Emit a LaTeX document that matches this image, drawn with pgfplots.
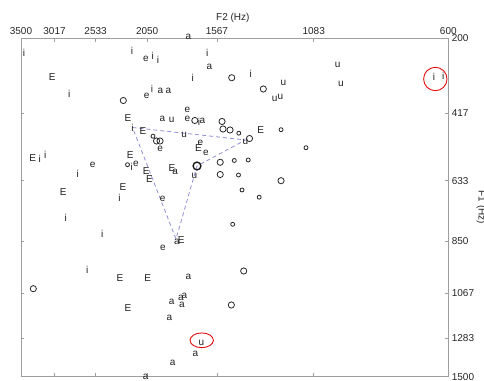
\documentclass[border=0pt]{standalone}
\usepackage{fontspec}
\setmainfont{Liberation Sans}
\usepackage{pgfplots}
\usepackage{pgfplotstable}
\pgfplotsset{compat=1.18}
% Positions are in Bark (Zwicker) units, the scale of both axes.
\pgfplotstableread{
x y l
16.414 2.357 i
13.658 2.303 i
13.130 2.447 i
12.995 2.556 i
11.738 2.357 i
12.110 3.056 i
15.258 3.485 i
13.148 3.340 i
11.949 4.257 i
13.646 4.405 i
16.013 5.259 i
15.870 5.150 i
13.666 5.464 i
15.044 5.677 i
13.977 6.310 i
10.630 2.947 i
5.954 3.012 i
5.717 2.985 i
15.350 6.878 i
14.416 7.307 i
14.799 8.289 i
13.301 2.537 e
13.283 3.531 e
12.248 3.930 e
12.248 4.154 e
12.939 4.986 e
11.911 4.809 e
11.771 5.082 e
14.661 5.415 e
13.556 5.396 e
12.875 6.338 e
12.868 7.697 e
15.692 3.029 E
13.760 4.148 E
13.378 4.487 E
11.962 4.967 E
16.192 5.232 E
13.704 5.164 E
13.296 5.579 E
13.212 5.805 E
12.638 5.513 E
15.411 6.152 E
13.888 6.032 E
10.373 4.467 E
12.401 7.484 E
13.964 8.508 E
13.258 8.508 E
13.760 9.335 E
12.222 1.920 a
11.681 2.739 a
12.936 3.411 a
12.732 3.403 a
12.885 4.175 a
11.860 4.230 a
12.556 5.614 a
12.510 7.511 a
12.222 8.472 a
12.646 9.171 a
12.408 9.054 a
12.324 8.999 a
12.383 9.245 a
12.707 9.608 a
12.044 10.583 a
12.620 10.837 a
13.309 11.202 a
12.646 4.194 u
12.327 4.598 u
10.763 4.781 u
12.069 5.723 u
8.411 2.693 u
8.327 3.220 u
9.799 3.176 u
10.018 3.621 u
9.875 3.558 u
11.891 10.274 u
}\letters
\pgfplotstableread{
x y
11.115 3.040
13.880 3.662
12.056 4.208
11.362 4.235
11.337 4.440
11.158 4.467
13.033 4.768
12.944 4.768
10.661 4.700
10.309 3.348
11.408 5.349
11.408 5.682
9.857 5.852
10.809 8.317
16.176 8.800
11.125 9.245
}\bigO
\pgfplotstableread{
x y
10.934 4.555
13.123 4.637
13.773 5.415
11.049 5.300
10.694 5.286
10.942 5.696
10.852 6.105
10.414 6.302
9.857 4.459
9.220 4.951
11.090 7.042
}\smallO
\definecolor{tri}{rgb}{0.56,0.56,0.83}
\definecolor{axgray}{rgb}{0.62,0.62,0.62}
\begin{document}
\begin{tikzpicture}
\begin{axis}[
  scale only axis, width=427.3pt, height=338.4pt,
  at={(0pt,0pt)}, anchor=south west,
  xmin=5.590, xmax=16.49, x dir=reverse,
  ymin=1.964, ymax=11.203, y dir=reverse,
  clip=false,
  xtick={16.49,15.634,14.587,13.272,11.493,9.023,5.590},
  xticklabels={3500,3017,2533,2050,1567,1083,600},
  ytick={1.964,4.003,5.85,7.50,8.928,10.147,11.203},
  yticklabels={200,417,633,850,1067,1283,1500},
  xticklabel pos=upper, yticklabel pos=right,
  tick align=inside, major tick length=3.5pt,
  axis line style={draw=axgray, line width=0.9pt},
  tick style={draw=axgray, line width=0.7pt},
  ticklabel style={font=\fontsize{10}{12}\selectfont, text=black!85},
  xlabel={F2 (Hz)}, ylabel={F1 (Hz)},
  every axis x label/.style={at={(axis description cs:0.4957,1.0517)}, anchor=base, font=\fontsize{10}{12}\selectfont, text=black!85},
  every axis y label/.style={at={(axis description cs:1.0707,0.5)}, rotate=-90, anchor=base, font=\fontsize{10}{12}\selectfont, text=black!85},
]
\addplot[tri, dashed, dash pattern=on 4pt off 3pt, line width=0.8pt, mark=none]
  coordinates {(13.646,4.399) (10.763,4.740) (12.000,5.450) (12.536,7.443) (13.646,4.399)};
\addplot[only marks, mark=o, mark size=3.1pt, black!85, line width=0.8pt] table[x=x,y=y] {\bigO};
\addplot[only marks, mark=o, mark size=2.0pt, black!85, line width=0.8pt] table[x=x,y=y] {\smallO};
\addplot[only marks, mark=o, mark size=3.9pt, black!90, line width=1.4pt] coordinates {(12.000,5.450)};
\addplot[draw=none, mark=none, nodes near coords, point meta=explicit symbolic,
  every node near coord/.append style={anchor=center, inner sep=0pt, font=\fontsize{10}{12}\selectfont, text=black!88}]
  table[x=x,y=y,meta=l] {\letters};
\addplot[only marks, mark=o, mark size=11.7pt, color={rgb,1:red,0.9;green,0.05;blue,0.05}, line width=0.9pt] coordinates {(5.921,3.075)};
\addplot[only marks, mark=o, mark size=11.7pt, color={rgb,1:red,0.9;green,0.05;blue,0.05}, line width=0.9pt, mark options={yscale=0.63}] coordinates {(11.880,10.209)};
\end{axis}
\pgfresetboundingbox
\useasboundingbox (-21pt,-3.3pt) rectangle (463pt,376.7pt);
\end{tikzpicture}
\end{document}
